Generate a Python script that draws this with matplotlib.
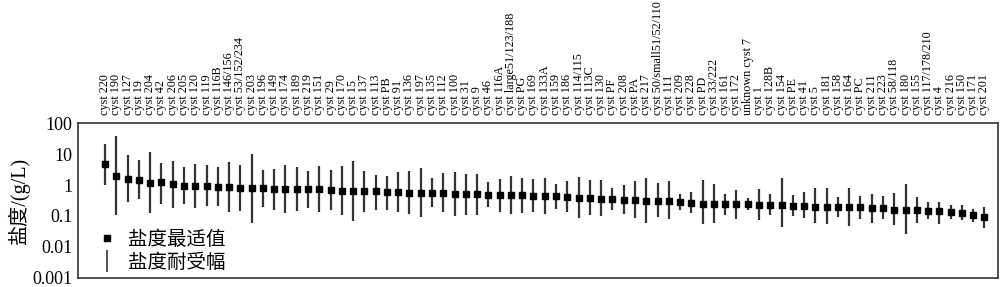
import matplotlib
matplotlib.use("Agg")
import matplotlib.pyplot as plt
import numpy as np
from matplotlib.lines import Line2D

# 囊种名称（从左到右）
cysts = ["cyst 220", "cyst 190", "cyst 127", "cyst 19", "cyst 204", "cyst 42", "cyst 206", "cyst 205",
         "cyst 120", "cyst 119", "cyst 116B", "cyst 146/156", "cyst 53/152/234", "cyst 203", "cyst 196",
         "cyst 149", "cyst 174", "cyst 189", "cyst 219", "cyst 151", "cyst 29", "cyst 170", "cyst 15",
         "cyst 137", "cyst 113", "cyst PB", "cyst 91", "cyst 136", "cyst 197", "cyst 135", "cyst 112",
         "cyst 100", "cyst 31", "cyst 9", "cyst 46", "cyst 116A", "cyst large51/123/188", "cyst PG",
         "cyst 169", "cyst 133A", "cyst 159", "cyst 186", "cyst 114/115", "cyst 113C", "cyst 130",
         "cyst PF", "cyst 208", "cyst PA", "cyst 217", "cyst 50/small51/52/110", "cyst 111", "cyst 209",
         "cyst 228", "cyst PD", "cyst 33/222", "cyst 161", "cyst 172", "unknown cyst 7", "cyst 1",
         "cyst 128B", "cyst 154", "cyst PE", "cyst 41", "cyst 5", "cyst 181", "cyst 158", "cyst 164",
         "cyst PC", "cyst 211", "cyst 223", "cyst 58/118", "cyst 180", "cyst 155", "cyst 117/178/210",
         "cyst 4", "cyst 216", "cyst 150", "cyst 171", "cyst 201"]

# 盐度最适值 (g/L)
optimum = [4.6, 1.92, 1.61, 1.5, 1.18, 1.21, 1.07, 0.95, 0.93, 0.9, 0.88, 0.84, 0.82, 0.82, 0.8,
           0.75, 0.75, 0.73, 0.73, 0.73, 0.7, 0.66, 0.65, 0.62, 0.62, 0.58, 0.58, 0.57, 0.56, 0.56,
           0.56, 0.52, 0.5, 0.5, 0.49, 0.46, 0.46, 0.46, 0.45, 0.44, 0.43, 0.42, 0.39, 0.37, 0.34,
           0.34, 0.33, 0.32, 0.31, 0.3, 0.3, 0.28, 0.26, 0.25, 0.24, 0.235, 0.235, 0.235, 0.23, 0.23,
           0.22, 0.21, 0.21, 0.2, 0.2, 0.19, 0.19, 0.19, 0.175, 0.175, 0.16, 0.155, 0.15, 0.145, 0.14,
           0.13, 0.12, 0.105, 0.09]

# 盐度耐受幅上限
upper = [20.5, 37.8, 9.2, 6.6, 11.5, 5.3, 6.0, 3.8, 4.9, 4.3, 3.8, 5.4, 4.3, 10.4, 3.0,
         3.3, 4.3, 3.8, 2.8, 4.0, 3.0, 4.0, 5.8, 2.76, 2.16, 2.0, 2.57, 2.9, 3.5, 1.66,
         2.45, 2.7, 2.2, 2.2, 1.27, 1.6, 1.92, 1.7, 1.55, 1.66, 1.07, 1.34, 1.83, 1.4, 1.44,
         0.8, 1.0, 1.3, 1.74, 1.18, 1.34, 0.5, 0.6, 1.44, 1.1, 0.52, 0.7, 0.37, 0.76, 0.52,
         1.7, 0.48, 0.6, 0.78, 0.78, 0.42, 0.82, 0.43, 0.52, 0.45, 0.57, 1.07, 0.42, 0.28, 0.29,
         0.23, 0.22, 0.166, 0.2]

# 盐度耐受幅下限
lower = [1.0, 0.105, 0.29, 0.34, 0.12, 0.25, 0.18, 0.24, 0.175, 0.21, 0.21, 0.13, 0.14, 0.061, 0.19,
         0.15, 0.12, 0.14, 0.18, 0.13, 0.155, 0.105, 0.068, 0.13, 0.16, 0.16, 0.13, 0.115, 0.09, 0.19,
         0.13, 0.1, 0.11, 0.108, 0.19, 0.137, 0.118, 0.124, 0.13, 0.118, 0.166, 0.137, 0.088, 0.105, 0.1,
         0.155, 0.113, 0.088, 0.061, 0.09, 0.082, 0.158, 0.12, 0.055, 0.06, 0.11, 0.08, 0.155, 0.076, 0.108,
         0.043, 0.098, 0.085, 0.057, 0.055, 0.093, 0.048, 0.082, 0.059, 0.079, 0.051, 0.026, 0.059, 0.079, 0.055,
         0.082, 0.073, 0.065, 0.041]

opt = np.array(optimum)
yerr = [opt - np.array(lower), np.array(upper) - opt]
x = np.arange(len(cysts))

serif = "Liberation Serif"
cjk = [serif, "Noto Sans CJK SC"]

fig = plt.figure(figsize=(10, 2.87), dpi=100)
ax = fig.add_axes([0.078, 0.032, 0.92, 0.539])

ax.errorbar(x, opt, yerr=yerr, fmt="s", color="black", ecolor="#333333",
            elinewidth=1.6, markersize=4, capsize=0)

ax.set_yscale("log")
ax.set_ylim(0.001, 100)
ax.set_xlim(-2.4, len(cysts) - 1 + 1.2)
ax.set_yticks([0.001, 0.01, 0.1, 1, 10, 100])
ax.set_yticklabels(["0.001", "0.01", "0.1", "1", "10", "100"], family=serif, fontsize=13)
ax.minorticks_off()
ax.tick_params(axis="y", length=0, pad=4)

ax.xaxis.tick_top()
ax.set_xticks(x)
ax.set_xticklabels(cysts, rotation=90, family=serif, fontsize=8.7)
ax.tick_params(axis="x", length=0, pad=6)

ax.set_ylabel("盐度/(g/L)", family=cjk, fontsize=14.5, labelpad=2)

for s in ax.spines.values():
    s.set_linewidth(1.2)
    s.set_color("#333333")

handles = [Line2D([], [], marker="s", color="black", linestyle="none", markersize=4),
           Line2D([], [], marker="|", color="#333333", linestyle="none", markersize=16, markeredgewidth=1.2)]
ax.legend(handles, ["盐度最适值", "盐度耐受幅"], loc="lower left", frameon=False,
          prop={"family": "Noto Sans CJK SC", "size": 14}, handlelength=1.0,
          handletextpad=0.6, labelspacing=0.1, borderaxespad=0.0, bbox_to_anchor=(0.012, -0.02))

fig.savefig("out.png", dpi=100)
